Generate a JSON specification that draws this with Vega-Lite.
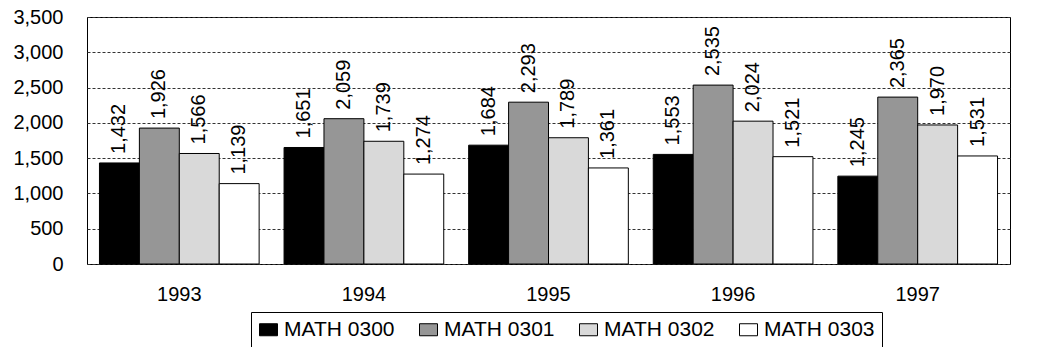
{
  "$schema": "https://vega.github.io/schema/vega-lite/v6.json",
  "autosize": "none",
  "width": 923,
  "height": 247,
  "padding": {"left": 87, "top": 17, "right": 29, "bottom": 83},
  "background": "white",
  "config": {
    "font": "Liberation Sans",
    "view": {"stroke": "black", "strokeWidth": 1}
  },
  "data": {
    "values": [
      {"year": "1993", "course": "MATH 0300", "value": 1432},
      {"year": "1993", "course": "MATH 0301", "value": 1926},
      {"year": "1993", "course": "MATH 0302", "value": 1566},
      {"year": "1993", "course": "MATH 0303", "value": 1139},
      {"year": "1994", "course": "MATH 0300", "value": 1651},
      {"year": "1994", "course": "MATH 0301", "value": 2059},
      {"year": "1994", "course": "MATH 0302", "value": 1739},
      {"year": "1994", "course": "MATH 0303", "value": 1274},
      {"year": "1995", "course": "MATH 0300", "value": 1684},
      {"year": "1995", "course": "MATH 0301", "value": 2293},
      {"year": "1995", "course": "MATH 0302", "value": 1789},
      {"year": "1995", "course": "MATH 0303", "value": 1361},
      {"year": "1996", "course": "MATH 0300", "value": 1553},
      {"year": "1996", "course": "MATH 0301", "value": 2535},
      {"year": "1996", "course": "MATH 0302", "value": 2024},
      {"year": "1996", "course": "MATH 0303", "value": 1521},
      {"year": "1997", "course": "MATH 0300", "value": 1245},
      {"year": "1997", "course": "MATH 0301", "value": 2365},
      {"year": "1997", "course": "MATH 0302", "value": 1970},
      {"year": "1997", "course": "MATH 0303", "value": 1531}
    ]
  },
  "encoding": {
    "x": {
      "field": "year", "type": "nominal",
      "scale": {"paddingInner": 0.135, "paddingOuter": 0.0675},
      "axis": {"title": null, "labelAngle": 0, "labelFontSize": 20, "labelColor": "black", "ticks": false, "domain": false, "labelPadding": 20}
    },
    "xOffset": {"field": "course", "type": "nominal", "scale": {"paddingInner": 0, "paddingOuter": 0}},
    "y": {
      "field": "value", "type": "quantitative",
      "scale": {"domain": [0, 3500]},
      "axis": {"title": null, "values": [0,500,1000,1500,2000,2500,3000,3500], "format": ",d", "labelFontSize": 20, "labelColor": "black", "ticks": false, "domain": false, "labelPadding": 24, "gridColor": "#333333", "gridDash": [3, 2], "gridWidth": 1}
    }
  },
  "layer": [
    {
      "mark": {"type": "bar", "stroke": "black", "strokeWidth": 1},
      "encoding": {
        "fill": {
          "field": "course", "type": "nominal",
          "scale": {"domain": ["MATH 0300", "MATH 0301", "MATH 0302", "MATH 0303"], "range": ["#000000", "#969696", "#d9d9d9", "#ffffff"]},
          "legend": {
            "title": null, "orient": "none", "legendX": 164, "legendY": 295,
            "direction": "horizontal",
            "symbolType": "M-1,-0.667L1,-0.667L1,0.667L-1,0.667Z", "symbolSize": 324,
            "symbolStrokeColor": "black", "symbolStrokeWidth": 1,
            "labelFontSize": 21, "labelColor": "black", "columnPadding": 22,
            "strokeColor": "black", "padding": 7, "fillColor": "white", "symbolOffset": 0, "labelOffset": 5
          }
        }
      }
    },
    {
      "mark": {"type": "text", "angle": 270, "align": "left", "baseline": "middle", "dx": 9, "fontSize": 20, "color": "black"},
      "encoding": {
        "text": {"field": "value", "type": "quantitative", "format": ",d"}
      }
    }
  ]
}
